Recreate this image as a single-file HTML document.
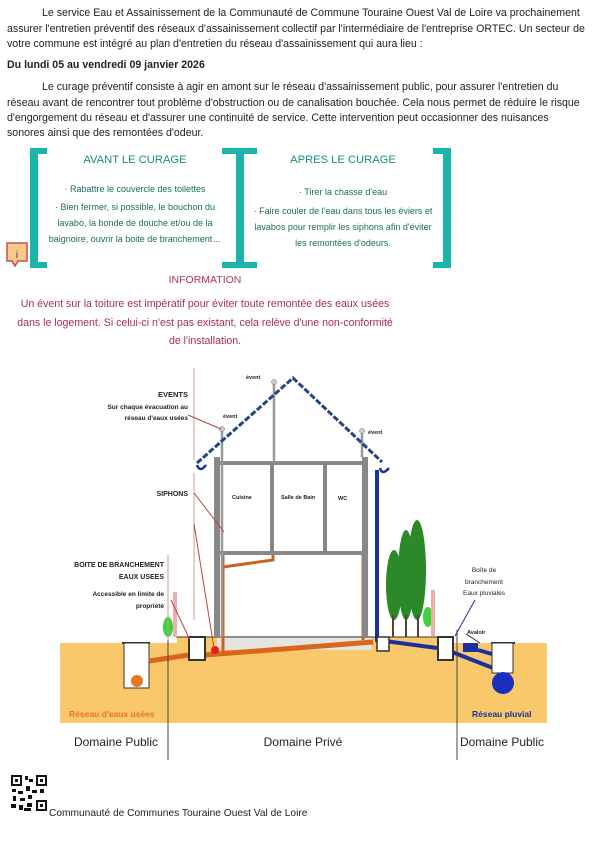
<!DOCTYPE html>
<html><head><meta charset="utf-8"><style>
body{margin:0;width:607px;height:855px;background:#fff;position:relative;overflow:hidden;font-family:"Liberation Sans",sans-serif}
.t{position:absolute;font-size:10.6px;color:#222;white-space:nowrap;line-height:15px}
.c{position:absolute;text-align:center;white-space:nowrap}
</style></head><body>
<div class="t" style="left:42px;top:6px">Le service Eau et Assainissement de la Communauté de Commune Touraine Ouest Val de Loire va prochainement</div>
<div class="t" style="left:7px;top:22px">assurer l'entretien préventif des réseaux d'assainissement collectif par l'intermédiaire de l'entreprise ORTEC. Un secteur de</div>
<div class="t" style="left:7px;top:37px">votre commune est intégré au plan d'entretien du réseau d'assainissement qui aura lieu :</div>
<div class="t" style="left:7px;top:58px;font-weight:bold">Du lundi 05 au vendredi 09 janvier 2026</div>
<div class="t" style="left:42px;top:80px">Le curage préventif consiste à agir en amont sur le réseau d'assainissement public, pour assurer l'entretien du</div>
<div class="t" style="left:7px;top:96px">réseau avant de rencontrer tout problème d'obstruction ou de canalisation bouchée. Cela nous permet de réduire le risque</div>
<div class="t" style="left:7px;top:111px">d'engorgement du réseau et d'assurer une continuité de service. Cette intervention peut occasionner des nuisances</div>
<div class="t" style="left:7px;top:126px">sonores ainsi que des remontées d'odeur.</div>

<svg style="position:absolute;left:0;top:0" width="607" height="855">
<g fill="#1ab5aa">
<rect x="30" y="148" width="8" height="120"/><rect x="30" y="148" width="17" height="6"/><rect x="30" y="262" width="17" height="6"/>
<rect x="236" y="148" width="8" height="120"/><rect x="222" y="148" width="35" height="6"/><rect x="222" y="262" width="35" height="6"/>
<rect x="443" y="148" width="8" height="120"/><rect x="433" y="148" width="18" height="6"/><rect x="433" y="262" width="18" height="6"/>
</g>
<path d="M7 243h20v18h-9l-3 5-3-5h-5z" fill="#f9c98c" stroke="#c0504d" stroke-width="1.5"/>
<text x="17" y="258" font-size="10" fill="#333" text-anchor="middle">i</text>

<rect x="60" y="643" width="487" height="80" fill="#f9c86a"/>
<rect x="177" y="637" width="275" height="8" fill="#f9c86a"/>
<rect x="217" y="636" width="155" height="14" fill="#e4e4e0"/>
<line x1="176" y1="637" x2="452" y2="637" stroke="#333" stroke-width="1"/>
<line x1="122" y1="643" x2="150" y2="643" stroke="#333" stroke-width="2"/>
<rect x="124" y="643" width="25" height="45" fill="#fff" stroke="#333"/>
<circle cx="137" cy="681" r="6" fill="#e8761e"/>
<path d="M149 661L189 655M205 655L373 642" stroke="#d9661a" stroke-width="5"/>
<rect x="189" y="637" width="16" height="23" fill="#fff" stroke="#333" stroke-width="2"/>
<circle cx="215" cy="650" r="4" fill="#e02020"/>
<path d="M223 553V655M223 567L273 560V553M363 553V640" stroke="#c9641e" stroke-width="3" fill="none"/>
<g fill="#888">
<rect x="214" y="457" width="6" height="180"/><rect x="362" y="457" width="6" height="180"/>
<rect x="217" y="461" width="148" height="4"/><rect x="217" y="551" width="148" height="4"/>
<rect x="270" y="463" width="4" height="90"/><rect x="323" y="463" width="4" height="90"/>
</g>
<path d="M222 430V637M274 383V463M362 432V457" stroke="#999" stroke-width="2.5"/>
<circle cx="222" cy="429" r="2.5" fill="#ccc" stroke="#666" stroke-width=".5"/>
<circle cx="274" cy="382" r="2.5" fill="#ccc" stroke="#666" stroke-width=".5"/>
<circle cx="362" cy="431" r="2.5" fill="#ccc" stroke="#666" stroke-width=".5"/>
<path d="M197 463L293 378L382 462" stroke="#24457e" stroke-width="3" fill="none" stroke-dasharray="6 2"/>
<path d="M197 465q3 8 9 0M380 468q2 8 9 0" stroke="#1a2fa0" stroke-width="2.5" fill="none"/>
<path d="M377 470V640L437 648M452 652L493 668M478 650L492 654" stroke="#1a2fa0" stroke-width="4" fill="none"/>
<rect x="377" y="637" width="12" height="14" fill="#fff" stroke="#333" stroke-width="1.5"/>
<rect x="438" y="637" width="15" height="23" fill="#fff" stroke="#333" stroke-width="2"/>
<rect x="463" y="643" width="15" height="9" fill="#1a2fa0"/>
<line x1="491" y1="643" x2="515" y2="643" stroke="#333" stroke-width="2"/>
<rect x="492" y="643" width="21" height="30" fill="#fff" stroke="#333"/>
<circle cx="503" cy="683" r="11" fill="#1a2fc0"/>
<g fill="#2a8a2a"><ellipse cx="394" cy="585" rx="8" ry="35"/><ellipse cx="406" cy="575" rx="8" ry="45"/><ellipse cx="417" cy="570" rx="9" ry="50"/></g>
<path d="M393 615v22M406 615v22M418 615v22" stroke="#5a4030" stroke-width="2"/>
<ellipse cx="168" cy="627" rx="5" ry="10" fill="#3cd43c"/>
<ellipse cx="428" cy="617" rx="5" ry="10" fill="#3cd43c"/>
<rect x="173" y="592" width="4" height="45" fill="#eab0b0"/><rect x="431" y="590" width="4" height="46" fill="#eab0b0"/>
<path d="M194 368V460M194 473V620M168 555V640" stroke="#c9a090" stroke-width="1"/>
<path d="M168 640V760M457 630V760" stroke="#444" stroke-width="1"/>
<path d="M188 415L221 429M194 493L224 532M194 524L214 648M171 600L190 640" stroke="#c04040" stroke-width="1"/>
<path d="M475 600L455 636" stroke="#1a2fa0" stroke-width="1"/>
<path d="M466 634L480 643" stroke="#333" stroke-width="1"/>
<g font-weight="bold" font-size="6.5" fill="#222" text-anchor="end">
<text x="188" y="397" font-size="7.5">EVENTS</text><text x="188" y="409">Sur chaque évacuation au</text><text x="188" y="420">réseau d'eaux usées</text>
<text x="188" y="496" font-size="7">SIPHONS</text>
<text x="164" y="567" font-size="7">BOITE DE BRANCHEMENT</text><text x="164" y="579" font-size="7">EAUX USEES</text>
<text x="164" y="596">Accessible en limite de</text><text x="164" y="608">propriété</text>
</g>
<g font-weight="bold" font-size="5.5" fill="#222">
<text x="246" y="379">évent</text><text x="223" y="418">évent</text><text x="368" y="434">évent</text>
<text x="232" y="499">Cuisine</text><text x="281" y="499">Salle de Bain</text><text x="338" y="500">WC</text>
<text x="467" y="634">Avaloir</text>
</g>
<g font-size="6.5" fill="#222" text-anchor="middle"><text x="484" y="572">Boîte de</text><text x="484" y="584">branchement</text><text x="484" y="595">Eaux pluviales</text></g>
<text x="69" y="717" font-size="8.5" font-weight="bold" fill="#e8761e">Réseau d'eaux usées</text>
<text x="472" y="717" font-size="8.5" font-weight="bold" fill="#1a2fa0">Réseau pluvial</text>
<g font-size="12" fill="#222" text-anchor="middle"><text x="116" y="746">Domaine Public</text><text x="303" y="746">Domaine Privé</text><text x="502" y="746">Domaine Public</text></g>
<g fill="#111">
<rect x="11" y="775" width="11" height="11"/><rect x="36" y="775" width="11" height="11"/><rect x="36" y="800" width="11" height="11"/>
<rect x="13" y="777" width="7" height="7" fill="#fff"/><rect x="38" y="777" width="7" height="7" fill="#fff"/><rect x="38" y="802" width="7" height="7" fill="#fff"/>
<rect x="15" y="779" width="3" height="3"/><rect x="40" y="779" width="3" height="3"/><rect x="40" y="804" width="3" height="3"/>
<rect x="25" y="776" width="3" height="4"/><rect x="29" y="779" width="4" height="3"/><rect x="12" y="789" width="4" height="3"/><rect x="18" y="791" width="5" height="3"/><rect x="26" y="786" width="4" height="5"/><rect x="32" y="790" width="5" height="3"/><rect x="40" y="789" width="4" height="4"/><rect x="13" y="796" width="3" height="5"/><rect x="20" y="798" width="5" height="3"/><rect x="28" y="795" width="4" height="4"/><rect x="11" y="804" width="5" height="4"/><rect x="19" y="805" width="4" height="5"/><rect x="27" y="803" width="5" height="4"/><rect x="24" y="808" width="7" height="3"/>
</g>
</svg>

<div class="c" style="left:35px;width:200px;top:154px;font-size:11.2px;color:#188c82">AVANT LE CURAGE</div>
<div class="c" style="left:35px;width:200px;top:181px;font-size:9px;color:#1c6a62;line-height:16px">· Rabattre le couvercle des toilettes</div>
<div class="c" style="left:35px;width:200px;top:199px;font-size:9px;color:#1c6a62;line-height:16px">· Bien fermer, si possible, le bouchon du<br>lavabo, la bonde de douche et/ou de la<br>baignoire, ouvrir la boite de branchement…</div>
<div class="c" style="left:243px;width:200px;top:154px;font-size:11.2px;color:#188c82">APRES LE CURAGE</div>
<div class="c" style="left:243px;width:200px;top:184px;font-size:9px;color:#1c6a62;line-height:16px">· Tirer la chasse d'eau</div>
<div class="c" style="left:243px;width:200px;top:203px;font-size:9px;color:#1c6a62;line-height:16px">· Faire couler de l'eau dans tous les éviers et<br>lavabos pour remplir les siphons afin d'éviter<br>les remontées d'odeurs.</div>
<div class="c" style="left:105px;width:200px;top:274px;font-size:10.5px;color:#b03458">INFORMATION</div>
<div class="c" style="left:0px;width:410px;top:295px;font-size:10.6px;color:#a8304f;line-height:18.5px">Un évent sur la toiture est impératif pour éviter toute remontée des eaux usées<br>dans le logement. Si celui-ci n'est pas existant, cela relève d'une non-conformité<br>de l'installation.</div>
<div class="t" style="left:49px;top:806px;font-size:10.2px">Communauté de Communes Touraine Ouest Val de Loire</div>
</body></html>
